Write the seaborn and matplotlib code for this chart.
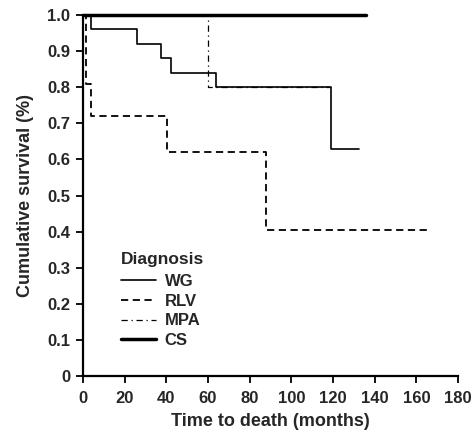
import matplotlib
matplotlib.use("Agg")
import matplotlib.pyplot as plt
import seaborn as sns
import pandas as pd

# Kaplan-Meier step data (time in months, cumulative survival)
wg_time = [0, 3.7, 26, 37.5, 42, 64, 119, 132.5]
wg_surv = [1.0, 0.96, 0.92, 0.88, 0.84, 0.80, 0.63, 0.63]

rlv_time = [0, 1.5, 4, 40.5, 88, 166.5]
rlv_surv = [1.0, 0.81, 0.72, 0.62, 0.405, 0.405]

mpa_time = [0, 60, 118]
mpa_surv = [1.0, 0.80, 0.80]

cs_time = [0, 136]
cs_surv = [1.0, 1.0]

x_ticks = [0, 20, 40, 60, 80, 100, 120, 140, 160, 180]
y_ticks = [0, 0.1, 0.2, 0.3, 0.4, 0.5, 0.6, 0.7, 0.8, 0.9, 1.0]
y_tick_labels = ["0", "0.1", "0.2", "0.3", "0.4", "0.5", "0.6", "0.7", "0.8", "0.9", "1.0"]

sns.set_style("ticks")
plt.rcParams['font.family'] = ['Liberation Sans', 'DejaVu Sans']
plt.rcParams['font.weight'] = 'bold'

fig = plt.figure(figsize=(4.74, 4.36), dpi=100)
ax = fig.add_axes([83/474, 60/436, (458-83)/474, (376-15)/436])

series = [
    ("WG", wg_time, wg_surv, dict(linestyle="-", linewidth=1.2)),
    ("RLV", rlv_time, rlv_surv, dict(linestyle=(0, (4, 2.5)), linewidth=1.3)),
    ("MPA", mpa_time, mpa_surv, dict(linestyle=(0, (5, 3, 1, 3)), linewidth=0.9)),
    ("CS", cs_time, cs_surv, dict(linestyle="-", linewidth=2.5)),
]
for name, t, s, style in series:
    df = pd.DataFrame({"t": t, "s": s})
    sns.lineplot(data=df, x="t", y="s", ax=ax, estimator=None, sort=False,
                 drawstyle="steps-post", color="black", label=name,
                 clip_on=False, **style)

ax.set_xlim(0, 180)
ax.set_ylim(0, 1.0)
ax.set_xticks(x_ticks)
ax.set_yticks(y_ticks)
ax.set_yticklabels(y_tick_labels)
ax.tick_params(axis="both", labelsize=12, length=5, width=1.3, direction="out",
               color="black")
ax.tick_params(axis="x", pad=6)
ax.tick_params(axis="y", pad=4)
for lab in ax.get_xticklabels() + ax.get_yticklabels():
    lab.set_fontweight("bold")
sns.despine(ax=ax)
for sp in ["left", "bottom"]:
    ax.spines[sp].set_linewidth(1.6)
    ax.spines[sp].set_color("black")

ax.set_xlabel("Time to death (months)", fontsize=13, fontweight="bold", labelpad=5)
ax.set_ylabel("Cumulative survival (%)", fontsize=13, fontweight="bold", labelpad=10)

leg = ax.legend(title="Diagnosis", loc="upper left", bbox_to_anchor=(0.1, 0.343),
                frameon=False, fontsize=12, title_fontsize=12.5,
                handlelength=2.1, handletextpad=0.55, labelspacing=0.28,
                alignment="left", borderaxespad=0, borderpad=0)
leg._legend_box.sep = 5
leg.get_title().set_fontweight("bold")
for txt in leg.get_texts():
    txt.set_fontweight("bold")

fig.savefig("out.png", dpi=100, facecolor="white")
